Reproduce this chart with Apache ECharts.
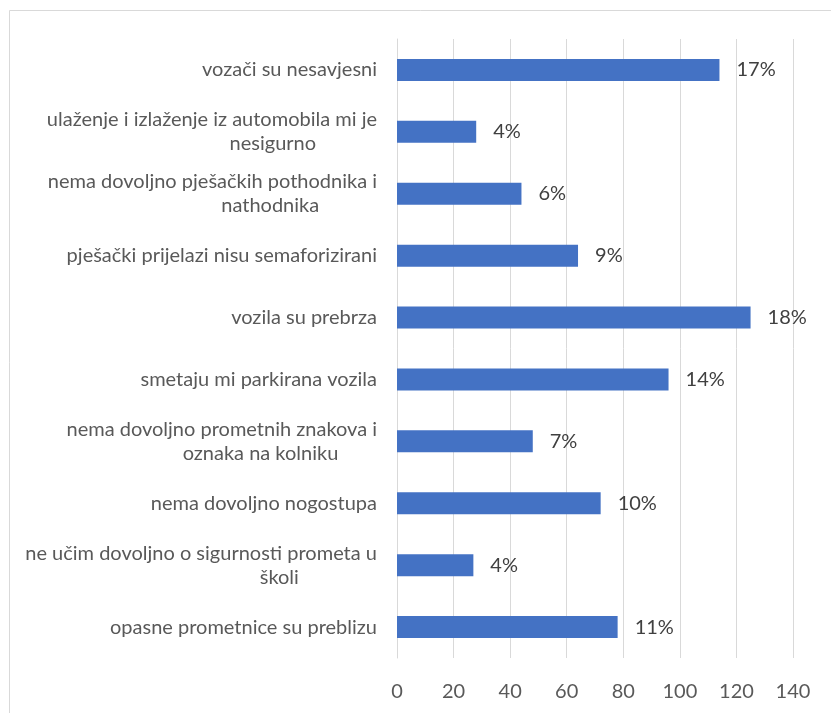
<!DOCTYPE html>
<html>
<head>
<meta charset="utf-8">
<script src="https://cdn.jsdelivr.net/npm/echarts@6/dist/echarts.min.js"></script>
<style>html,body{margin:0;padding:0;background:#fff;}#c{width:831px;height:713px;}</style>
</head>
<body>
<div id="c"></div>
<script>
const categories = [
  "vozači su nesavjesni",
  "ulaženje i izlaženje iz automobila mi je\nnesigurno",
  "nema dovoljno pješačkih pothodnika i\nnathodnika",
  "pješački prijelazi nisu semaforizirani",
  "vozila su prebrza",
  "smetaju mi parkirana vozila",
  "nema dovoljno prometnih znakova i\noznaka na kolniku",
  "nema dovoljno nogostupa",
  "ne učim dovoljno o sigurnosti prometa u\nškoli",
  "opasne prometnice su preblizu"
];
const values = [114, 28, 44, 64, 125, 96, 48, 72, 27, 78];
const percentLabels = ["17%", "4%", "6%", "9%", "18%", "14%", "7%", "10%", "4%", "11%"];
const xTicks = [0, 20, 40, 60, 80, 100, 120, 140];

const LABEL_FONT = 'Lato';
const LABEL_SIZE = 20;
const LINE_H = 24;

// Build rich styles so that wrapped lines are centred on each other (as in the original)
const ctx = document.createElement('canvas').getContext('2d');
ctx.font = LABEL_SIZE + 'px ' + LABEL_FONT;
const rich = {};
const labelMap = {};
categories.forEach(function (cat, i) {
  const lines = cat.split('\n');
  const widths = lines.map(function (l) { return ctx.measureText(l).width; });
  const maxW = Math.max.apply(null, widths);
  labelMap[cat] = lines.map(function (l, j) {
    const name = 'l' + i + '_' + j;
    rich[name] = {
      color: '#595959', fontFamily: LABEL_FONT, fontSize: LABEL_SIZE, lineHeight: LINE_H,
      padding: [0, (maxW - widths[j]) / 4, 0, 0]
    };
    return '{' + name + '|' + l + '}';
  }).join('\n');
});

const chart = echarts.init(document.getElementById('c'), null, {renderer: 'canvas'});
chart.setOption({
  animation: false,
  backgroundColor: '#ffffff',
  graphic: [{
    type: 'rect',
    shape: {x: 9.5, y: 10.5, width: 1000, height: 1000},
    style: {fill: 'none', stroke: '#d9d9d9', lineWidth: 1},
    silent: true, z: -1
  }],
  grid: {left: 397, right: 38, top: 39, bottom: 55, containLabel: false},
  xAxis: {
    type: 'value',
    min: xTicks[0],
    max: xTicks[xTicks.length - 1],
    interval: 20,
    axisLine: {show: false},
    axisTick: {show: false},
    splitLine: {show: true, lineStyle: {color: '#d9d9d9', width: 1}},
    axisLabel: {color: '#595959', fontFamily: 'Lato', fontSize: 20, margin: 24}
  },
  yAxis: {
    type: 'category',
    inverse: true,
    data: categories,
    axisLine: {show: true, lineStyle: {color: '#d9d9d9'}},
    axisTick: {show: false},
    axisLabel: {
      color: '#595959',
      fontFamily: LABEL_FONT,
      fontSize: LABEL_SIZE,
      margin: 20,
      lineHeight: LINE_H,
      formatter: function (v) { return labelMap[v] || v; },
      rich: rich
    }
  },
  series: [{
    type: 'bar',
    data: values,
    barWidth: 22,
    itemStyle: {color: '#4472c4'},
    label: {
      show: true,
      position: 'right',
      distance: 17,
      color: '#404040',
      fontFamily: 'Lato',
      fontSize: 20,
      formatter: function (p) { return percentLabels[p.dataIndex]; }
    }
  }]
});
</script>
</body>
</html>
